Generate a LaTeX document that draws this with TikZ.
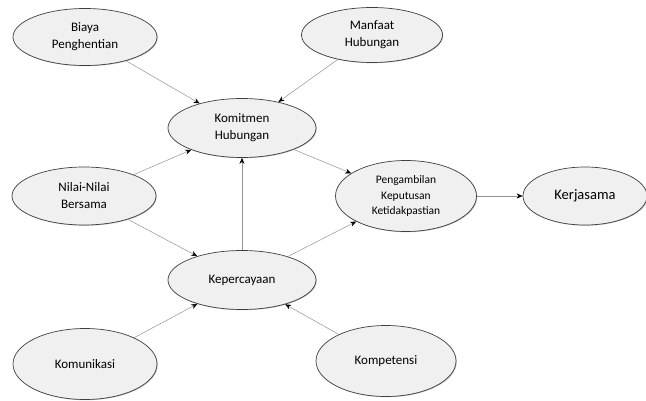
\documentclass[tikz,border=0pt]{standalone}
\usepackage{fontspec}
\setmainfont{Carlito}
\usetikzlibrary{arrows.meta, shapes.geometric, shadows}

\begin{document}
\begin{tikzpicture}[x=1pt, y=-1pt,
	factor/.style={ellipse, draw=black!75, line width=0.7pt, fill=gray!12, inner sep=0pt, align=center,
		font=\fontsize{13}{17}\selectfont,
		drop shadow={shadow xshift=0.7pt, shadow yshift=-0.7pt, fill=black!45, opacity=0.6}},
	link/.style={draw=gray!85, line width=0.5pt, -{Stealth[length=6pt, width=5pt, black]}}]
	\useasboundingbox (0,0) rectangle (646,401);
	\node [factor, minimum width=144, minimum height=57] (biaya) at (85,37) {Biaya\\Penghentian};
	\node [factor, minimum width=141, minimum height=55] (manfaat) at (372,35) {Manfaat\\Hubungan};
	\node [factor, minimum width=148, minimum height=59] (komitmen) at (242,128) {Komitmen\\Hubungan};
	\node [factor, minimum width=144, minimum height=58] (nilai) at (84,196) {Nilai-Nilai\\Bersama};
	\node [factor, minimum width=141, minimum height=71, font=\fontsize{11.5}{15.5}\selectfont] (ambil) at (406,196) {Pengambilan\\Keputusan\\Ketidakpastian};
	\node [factor, minimum width=124, minimum height=58, font=\fontsize{14.5}{17}\selectfont] (kerja) at (585,196) {Kerjasama};
	\node [factor, minimum width=148, minimum height=59] (percaya) at (242,280) {Kepercayaan};
	\node [factor, minimum width=144, minimum height=71] (komunikasi) at (85,364) {Komunikasi};
	\node [factor, minimum width=140, minimum height=71] (kompetensi) at (386,361) {Kompetensi};
	\draw [link] (biaya) -- (komitmen);
	\draw [link] (manfaat) -- (komitmen);
	\draw [link] (nilai) -- (komitmen);
	\draw [link] (nilai) -- (percaya);
	\draw [link] (percaya) -- (komitmen);
	\draw [link] (komitmen) -- (ambil);
	\draw [link] (percaya) -- (ambil);
	\draw [link] (ambil) -- (kerja);
	\draw [link] (komunikasi) -- (percaya);
	\draw [link] (kompetensi) -- (percaya);
\end{tikzpicture}
\end{document}
